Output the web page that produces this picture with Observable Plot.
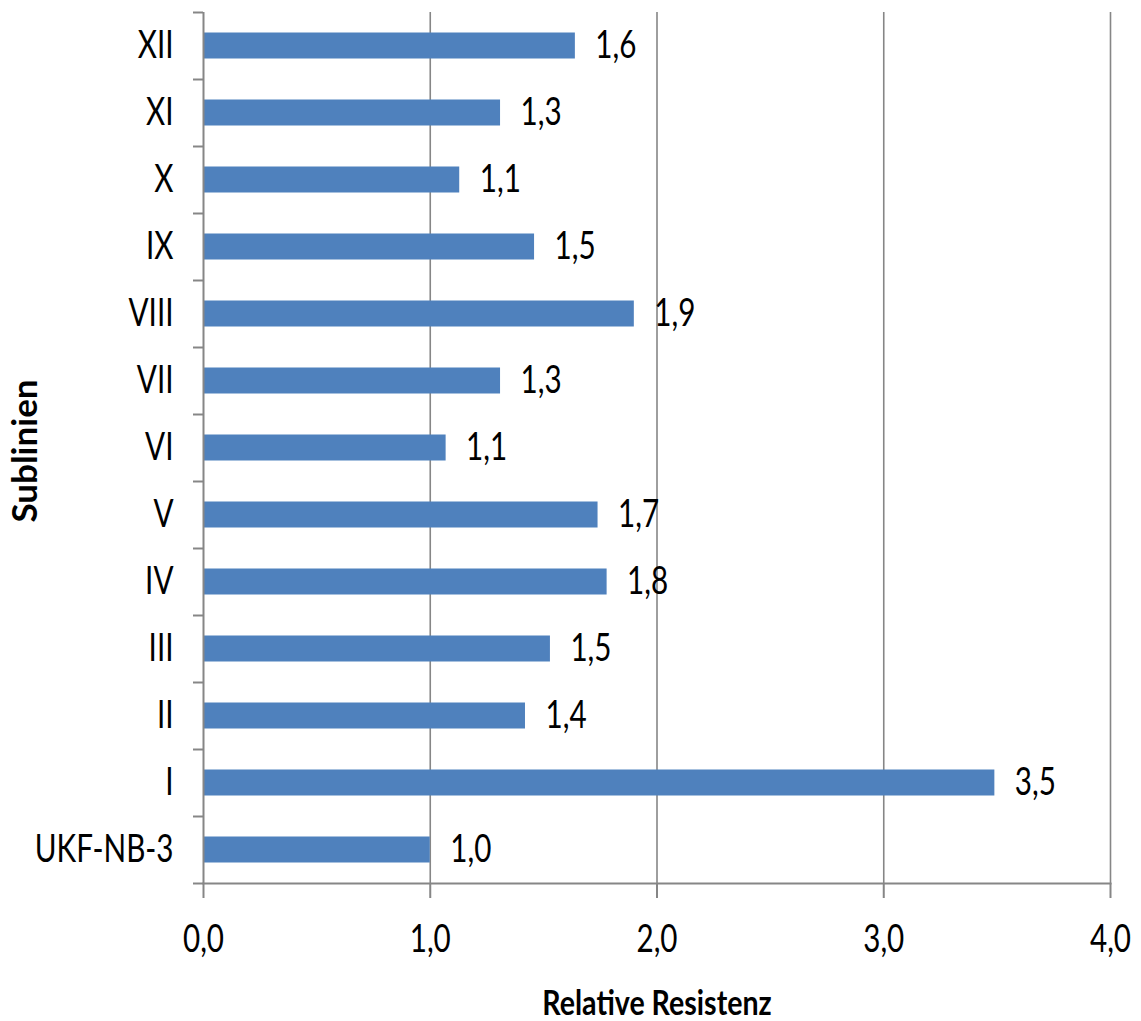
<!DOCTYPE html>
<html>
<head>
<meta charset="utf-8">
<script src="https://cdn.jsdelivr.net/npm/d3@7"></script>
<script src="https://cdn.jsdelivr.net/npm/@observablehq/plot@0.6"></script>
<style>
  html, body { margin: 0; padding: 0; background: #fff; }
  #chart svg { display: block; }
</style>
</head>
<body>
<div id="chart"></div>
<script>
// Sub-lines (bottom to top) and their relative resistance
const sublines = ["UKF-NB-3", "I", "II", "III", "IV", "V", "VI", "VII", "VIII", "IX", "X", "XI", "XII"];
const resistance = [1.0, 3.49, 1.42, 1.53, 1.78, 1.74, 1.07, 1.31, 1.9, 1.46, 1.13, 1.31, 1.64];
const xTicks = [0, 1, 2, 3, 4];
const xTitle = "Relative Resistenz";
const yTitle = "Sublinien";

const rows = sublines.map((line, i) => ({line, value: resistance[i]}));
const fmt = (v) => v.toFixed(1).replace(".", ",");

const axisGray = "#868686";
const barBlue = "#4f81bd";
const step = 67; // band height in px

const chart = Plot.plot({
  width: 1141,
  height: 1021,
  marginLeft: 203,
  marginRight: 31,
  marginTop: 12,
  marginBottom: 138,
  style: {fontFamily: "Lato, 'Liberation Sans', sans-serif", fontSize: "38px", color: "#000", background: "#fff", overflow: "visible"},
  x: {domain: [0, 4], label: null},
  y: {domain: sublines, reverse: true, padding: 0, label: null},
  marks: [
    Plot.gridX(xTicks.slice(1), {stroke: axisGray, strokeOpacity: 1, strokeWidth: 1.6}),
    Plot.barX(rows, {x: "value", y: "line", fill: barBlue, insetTop: 20.5, insetBottom: 20.5}),
    Plot.text(rows, {x: "value", y: "line", text: (d) => fmt(d.value), dx: 20, textAnchor: "start", fill: "#000"}),
    // axis lines
    Plot.ruleX([0], {stroke: axisGray, strokeWidth: 2}),
    Plot.frame({anchor: "bottom", stroke: axisGray, strokeWidth: 2}),
    // x axis ticks and labels
    Plot.axisX(xTicks, {tickSize: 15, tickPadding: 27, tickFormat: fmt, stroke: axisGray, strokeWidth: 2, fill: "#000", label: null}),
    // y axis labels at band centres
    Plot.axisY({tickSize: 0, tickPadding: 30, fill: "#000", label: null}),
    // y axis ticks at band boundaries
    Plot.axisY({tickSize: 10, tickFormat: () => "", dy: -step / 2, stroke: axisGray, strokeWidth: 2, label: null}),
    Plot.axisY([sublines[0]], {tickSize: 10, tickFormat: () => "", dy: step / 2, stroke: axisGray, strokeWidth: 2, label: null}),
    // axis titles
    Plot.text([xTitle], {frameAnchor: "bottom", lineAnchor: "bottom", dy: 131, fontWeight: "bold", fontSize: 34, fill: "#000"}),
    Plot.text([yTitle], {frameAnchor: "left", textAnchor: "middle", rotate: -90, dx: -178, dy: 3, fontWeight: "bold", fontSize: 35, fill: "#000"})
  ]
});

document.getElementById("chart").appendChild(chart);

// Condense the lettering horizontally (narrow, tall glyphs)
const widthFactor = {[xTitle]: 0.84};
chart.querySelectorAll("text").forEach((t) => {
  if (t.textContent === yTitle) return;
  const len = t.getComputedTextLength();
  if (!len) return;
  const f = widthFactor[t.textContent] ?? 0.78;
  t.setAttribute("textLength", (len * f).toFixed(1));
  t.setAttribute("lengthAdjust", "spacingAndGlyphs");
});
</script>
</body>
</html>
